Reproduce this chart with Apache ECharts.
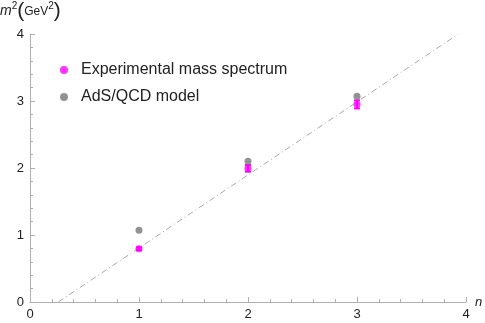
<!DOCTYPE html>
<html><head><meta charset="utf-8">
<script src="https://cdn.jsdelivr.net/npm/echarts@6/dist/echarts.min.js"></script>
<style>html,body{margin:0;padding:0;background:#fff}#c{width:485px;height:323px}</style>
</head><body><div id="c"></div>
<script>
var nValues = [1, 2, 3];
var expMass = [0.795, 1.995, 2.95];
var expErr = [0.02, 0.05, 0.06];
var adsMass = [1.07, 2.10, 3.07];
var fitLine = [[0.26, 0], [3.93, 4]];
var xTicks = [0, 1, 2, 3, 4];
var yTicks = [0, 1, 2, 3, 4];

var font = '"Liberation Sans", Arial, sans-serif';
var expData = nValues.map(function(n, i){ return [n, expMass[i]]; });
var adsData = nValues.map(function(n, i){ return [n, adsMass[i]]; });
var errData = nValues.map(function(n, i){ return [n, expMass[i] - expErr[i], expMass[i] + expErr[i]]; });

var chart = echarts.init(document.getElementById('c'));
chart.setOption({
  animation: false,
  backgroundColor: '#fff',
  textStyle: {fontFamily: font},
  grid: {left: 30, right: 19, top: 34, bottom: 21, containLabel: false},
  legend: {
    data: ['Experimental mass spectrum', 'AdS/QCD model'],
    orient: 'vertical', left: 55, top: 57, itemGap: 11,
    itemWidth: 8, itemHeight: 8, icon: 'circle',
    textStyle: {fontSize: 16, color: '#222', fontFamily: font, padding: [0, 0, 0, 8]}
  },
  xAxis: {
    type: 'value', min: 0, max: 4, interval: 1,
    axisLine: {lineStyle: {color: '#b0b0b0'}},
    axisTick: {inside: true, length: 5, lineStyle: {color: '#b0b0b0'}},
    minorTick: {show: true, splitNumber: 5, length: 3, lineStyle: {color: '#b0b0b0'}},
    splitLine: {show: false},
    axisLabel: {color: '#222', fontSize: 13, margin: 6, formatter: function(v){ return xTicks.indexOf(v) >= 0 ? String(v) : ''; }}
  },
  yAxis: {
    type: 'value', min: 0, max: 4, interval: 1,
    axisLine: {show: true, lineStyle: {color: '#b0b0b0'}},
    axisTick: {show: true, inside: true, length: 5, lineStyle: {color: '#b0b0b0'}},
    minorTick: {show: true, splitNumber: 5, length: 3, lineStyle: {color: '#b0b0b0'}},
    splitLine: {show: false},
    axisLabel: {color: '#222', fontSize: 13, margin: 6, formatter: function(v){ return yTicks.indexOf(v) >= 0 ? String(v) : ''; }}
  },
  graphic: [
    {type: 'text', left: 0, top: 1, style: {
      rich: {
        m: {fontStyle: 'italic', fontSize: 14, fontFamily: font, fill: '#222'},
        s: {fontSize: 10, fontFamily: font, fill: '#222', verticalAlign: 'top', padding: [0, 0, 9, 0]},
        p: {fontSize: 21, fontFamily: font, fill: '#222'},
        g: {fontSize: 12, fontFamily: font, fill: '#222'}
      },
      text: '{m|m}{s|2}{p|(}{g|GeV}{s|2}{p|)}'
    }},
    {type: 'text', left: 475, top: 296, style: {text: 'n', font: 'italic 13px ' + font, fill: '#222'}}
  ],
  series: [
    {type: 'line', name: 'fit', data: fitLine, symbol: 'none', silent: true,
     lineStyle: {color: '#a8a8a8', width: 1, type: [6, 3, 1, 3]}, z: 1},
    {type: 'custom', name: 'err', data: errData, z: 3,
     renderItem: function(params, api){
       var lo = api.coord([api.value(0), api.value(1)]);
       var hi = api.coord([api.value(0), api.value(2)]);
       var c = 3;
       return {type: 'group', children: [
         {type: 'line', shape: {x1: lo[0], y1: lo[1], x2: hi[0], y2: hi[1]}, style: {stroke: '#ff00ff', lineWidth: 2}},
         {type: 'line', shape: {x1: lo[0]-c, y1: lo[1], x2: lo[0]+c, y2: lo[1]}, style: {stroke: '#ff00ff', lineWidth: 2}},
         {type: 'line', shape: {x1: hi[0]-c, y1: hi[1], x2: hi[0]+c, y2: hi[1]}, style: {stroke: '#ff00ff', lineWidth: 2}}
       ]};
     }},
    {type: 'scatter', name: 'Experimental mass spectrum', data: expData, symbolSize: 7,
     itemStyle: {color: '#ff00ff'}, z: 4},
    {type: 'scatter', name: 'AdS/QCD model', data: adsData, symbolSize: 7,
     itemStyle: {color: '#777777'}, z: 4}
  ]
});
</script>
</body></html>
